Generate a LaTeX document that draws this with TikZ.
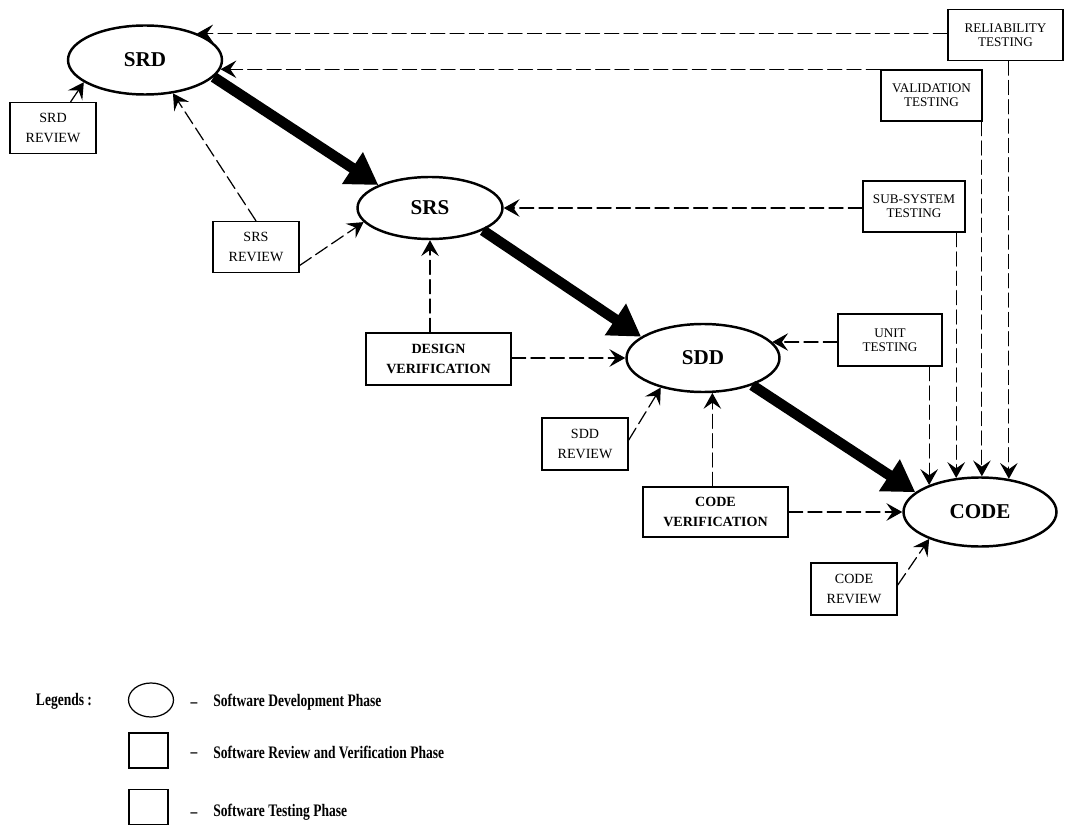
\documentclass[tikz,border=0pt]{standalone}
\usepackage{fontspec}
\setmainfont{Liberation Serif}
\newfontfamily\legendfont[FakeStretch=0.77]{Liberation Serif}
\usetikzlibrary{arrows.meta,shapes.geometric}

\begin{document}
\begin{tikzpicture}[>={Stealth[length=9pt,width=10pt,inset=3.5pt]},line cap=round,
  phase/.style={draw,ellipse,line width=1.4pt,minimum width=3.06cm,minimum height=1.36cm,inner sep=0pt,font=\fontsize{12}{14}\selectfont\bfseries},
  review/.style={draw,line width=0.7pt,minimum width=1.72cm,minimum height=1.02cm,inner sep=1pt,align=center,font=\fontsize{8}{11}\selectfont},
  verbox/.style={review,minimum width=2.9cm,font=\fontsize{8}{11}\selectfont\bfseries},
  testbox/.style={review,font=\fontsize{7.5}{8}\selectfont},
  dep/.style={->,dash pattern=on 8pt off 3pt,line width=0.7pt},
  flow/.style={-{Triangle[length=0.62cm,width=0.72cm]},line width=6pt,line cap=butt},
  legtext/.style={anchor=west,inner sep=0pt,font=\legendfont\fontsize{10}{12}\selectfont\bfseries}]
\useasboundingbox (0,0) rectangle (21.3,16.5);
\node[phase,minimum width=3.08cm,minimum height=1.38cm] (srd) at (2.90,15.30) {SRD};
\node[phase,minimum width=2.90cm,minimum height=1.24cm] (srs) at (8.60,12.34) {SRS};
\node[phase] (sdd) at (14.06,9.34) {SDD};
\node[phase,minimum height=1.38cm] (code) at (19.60,6.26) {CODE};
\node[review] (srdrev) at (1.06,13.94) {SRD\\REVIEW};
\node[review] (srsrev) at (5.12,11.56) {SRS\\REVIEW};
\node[verbox,minimum height=1.04cm] (desver) at (8.77,9.32) {DESIGN\\VERIFICATION};
\node[review,minimum height=1.04cm] (sddrev) at (11.70,7.62) {SDD\\REVIEW};
\node[verbox,minimum height=1.0cm] (codever) at (14.31,6.26) {CODE\\VERIFICATION};
\node[review,minimum height=1.04cm] (coderev) at (17.08,4.72) {CODE\\REVIEW};
\node[testbox,minimum width=2.30cm] (reltest) at (20.11,15.80) {RELIABILITY\\TESTING};
\node[testbox,minimum width=2.02cm] (valtest) at (18.63,14.59) {VALIDATION\\TESTING};
\node[testbox,minimum width=2.04cm] (subtest) at (18.28,12.37) {SUB-SYSTEM\\TESTING};
\node[testbox,minimum width=2.08cm,minimum height=1.04cm] (unittest) at (17.80,9.70) {UNIT\\TESTING};
\draw[flow] (srd.-14) -- (srs.156);
\draw[flow] (srs.-23) -- (sdd.161);
\draw[flow] (sdd.-29) -- (code.163);
\draw[dep] (srd.27 -| reltest.west) -- (srd.27);
\draw[dep] (srd.-7 -| valtest.west) -- (srd.-7);
\draw[dep] (srs.east -| subtest.west) -- (srs.east);
\draw[dep] (sdd.13 -| unittest.west) -- (sdd.13);
\draw[dep] (sdd.west -| desver.east) -- (sdd.west);
\draw[dep] (code.west -| codever.east) -- (code.west);
\draw[dep] (srs.south |- desver.north) -- (srs.south);
\draw[dep] (sdd.-75 |- codever.north) -- (sdd.-75);
\draw[dep] (code.152 |- unittest.south) -- (code.152);
\draw[dep] (code.125 |- subtest.south) -- (code.125);
\draw[dep] (code.87 |- valtest.south) -- (code.87);
\draw[dep] (code.49 |- reltest.south) -- (code.49);
\draw[dep] (srdrev.56) -- (srd.200);
\draw[dep] (srsrev.north) -- (srd.-50);
\draw[dep] (srsrev.-23) -- (srs.192);
\draw[dep] (sddrev.5) -- (sdd.215);
\draw[dep] (coderev.5) -- (code.208);
\node[legtext,anchor=center] (legtitle) at (1.28,2.48) {Legends :};
\node[draw,ellipse,line width=0.7pt,minimum width=0.9cm,minimum height=0.68cm] (legphase) at (3.02,2.50) {};
\node[draw,line width=0.7pt,minimum width=0.78cm,minimum height=0.70cm] (legrev) at (2.97,1.49) {};
\node[draw,line width=0.7pt,minimum width=0.78cm,minimum height=0.70cm] (legtest) at (2.97,0.36) {};
\node[legtext,anchor=center] (legdasha) at (3.88,2.40) {\textendash};
\node[legtext,anchor=center] (legdashb) at (3.88,1.40) {\textendash};
\node[legtext,anchor=center] (legdashc) at (3.88,0.20) {\textendash};
\node[legtext] (legphasetxt) at (4.26,2.46) {Software Development Phase};
\node[legtext] (legrevtxt) at (4.26,1.46) {Software Review and Verification Phase};
\node[legtext] (legtesttxt) at (4.26,0.26) {Software Testing Phase};
\end{tikzpicture}
\end{document}
